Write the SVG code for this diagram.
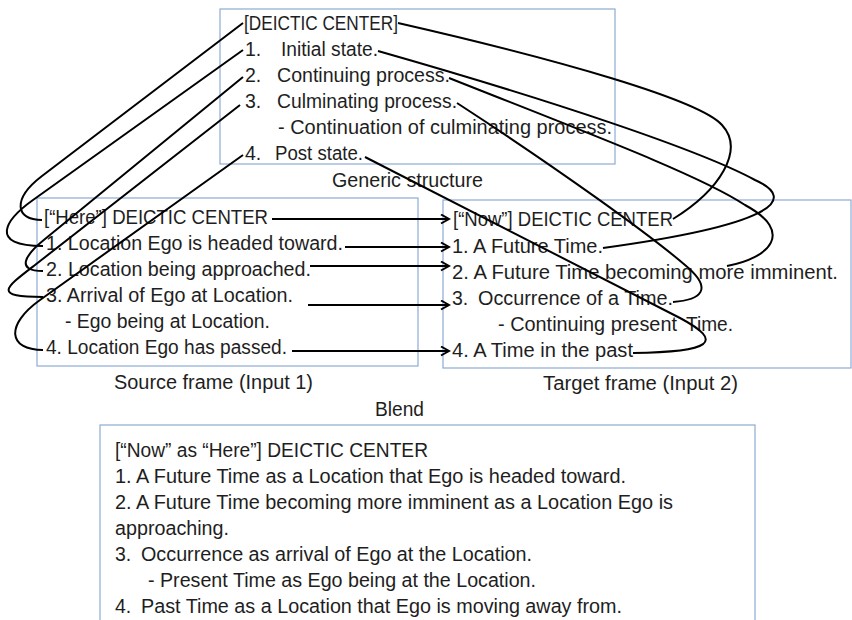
<svg xmlns="http://www.w3.org/2000/svg" width="852" height="620" viewBox="0 0 852 620">
<defs>
<style>
text{font-family:"Liberation Sans",Arial,sans-serif;font-size:19.5px;fill:#1e1e1e}
.box{fill:#fff;stroke:#8eaad6;stroke-width:1.2}
.c{fill:none;stroke:#000;stroke-width:2}
.a{fill:none;stroke:#000;stroke-width:2;marker-end:url(#ah)}
</style>
<marker id="ah" markerWidth="11" markerHeight="11" refX="9" refY="5.5" orient="auto" markerUnits="userSpaceOnUse"><path d="M1,1 L9,5.5 L1,10" fill="none" stroke="#000" stroke-width="2"/></marker>
</defs>
<rect width="852" height="620" fill="#fff"/>

<g id="generic">
<rect class="box" x="220" y="9" width="395" height="155"/>
<text x="244" y="30" textLength="154" lengthAdjust="spacingAndGlyphs">[DEICTIC CENTER]</text>
<text x="245" y="56">1.</text><text x="281" y="56" textLength="97" lengthAdjust="spacingAndGlyphs">Initial state.</text>
<text x="245" y="82">2.</text><text x="277" y="82" textLength="173" lengthAdjust="spacingAndGlyphs">Continuing process.</text>
<text x="245" y="108">3.</text><text x="277" y="108" textLength="180" lengthAdjust="spacingAndGlyphs">Culminating process.</text>
<text x="278" y="134" textLength="334" lengthAdjust="spacingAndGlyphs">- Continuation of culminating process.</text>
<text x="245" y="160">4.</text><text x="275" y="160" textLength="88" lengthAdjust="spacingAndGlyphs">Post state.</text>
<text x="332" y="187" textLength="151" lengthAdjust="spacingAndGlyphs">Generic structure</text>
</g>

<g id="source">
<rect class="box" x="37" y="198" width="381" height="168"/>
<text x="44" y="224" textLength="224" lengthAdjust="spacingAndGlyphs">[“Here”] DEICTIC CENTER</text>
<text x="46" y="250" textLength="297" lengthAdjust="spacingAndGlyphs">1. Location Ego is headed toward.</text>
<text x="46" y="276" textLength="265" lengthAdjust="spacingAndGlyphs">2. Location being approached.</text>
<text x="46" y="302" textLength="247" lengthAdjust="spacingAndGlyphs">3. Arrival of Ego at Location.</text>
<text x="65" y="328" textLength="205" lengthAdjust="spacingAndGlyphs">- Ego being at Location.</text>
<text x="46" y="354" textLength="241" lengthAdjust="spacingAndGlyphs">4. Location Ego has passed.</text>
<text x="114" y="389" textLength="199" lengthAdjust="spacingAndGlyphs">Source frame (Input 1)</text>
</g>

<g id="target">
<rect class="box" x="443" y="200" width="408" height="168"/>
<text x="453" y="226" textLength="220" lengthAdjust="spacingAndGlyphs">[“Now”] DEICTIC CENTER</text>
<text x="452" y="253" textLength="151" lengthAdjust="spacingAndGlyphs">1. A Future Time.</text>
<text x="452" y="279" textLength="386" lengthAdjust="spacingAndGlyphs">2. A Future Time becoming more imminent.</text>
<text x="452" y="305">3.</text><text x="478" y="305" textLength="195" lengthAdjust="spacingAndGlyphs">Occurrence of a Time.</text>
<text x="498" y="331" textLength="179" lengthAdjust="spacingAndGlyphs">- Continuing present</text><text x="686" y="331" textLength="47" lengthAdjust="spacingAndGlyphs">Time.</text>
<text x="452" y="357" textLength="181" lengthAdjust="spacingAndGlyphs">4. A Time in the past</text>
<text x="543" y="390" textLength="195" lengthAdjust="spacingAndGlyphs">Target frame (Input 2)</text>
</g>

<g id="blend">
<text x="375" y="416" textLength="49" lengthAdjust="spacingAndGlyphs">Blend</text>
<rect class="box" x="100" y="425" width="655" height="215"/>
<text x="115" y="457" textLength="313" lengthAdjust="spacingAndGlyphs">[“Now” as “Here”] DEICTIC CENTER</text>
<text x="115" y="483" textLength="511" lengthAdjust="spacingAndGlyphs">1. A Future Time as a Location that Ego is headed toward.</text>
<text x="115" y="509" textLength="558" lengthAdjust="spacingAndGlyphs">2. A Future Time becoming more imminent as a Location Ego is</text>
<text x="115" y="535" textLength="114" lengthAdjust="spacingAndGlyphs">approaching.</text>
<text x="115" y="561">3.</text><text x="141" y="561" textLength="391" lengthAdjust="spacingAndGlyphs">Occurrence as arrival of Ego at the Location.</text>
<text x="148" y="587" textLength="388" lengthAdjust="spacingAndGlyphs">- Present Time as Ego being at the Location.</text>
<text x="115" y="613">4.</text><text x="141" y="613" textLength="481" lengthAdjust="spacingAndGlyphs">Past Time as a Location that Ego is moving away from.</text>
</g>

<g id="connectors">
<path class="c" d="M42,220 C15,220 12,199 42,176 L243,23"/>
<path class="c" d="M43,246 C-12,246 5,220 33,200 L243,50"/>
<path class="c" d="M43,271 C15,271 25,255 45,239 L243,77"/>
<path class="c" d="M43,297 C-8,297 5,288 35,265 L240,105"/>
<path class="c" d="M43,350 C8,350 5,325 40,300 L243,155"/>
<path class="c" d="M398,23 C560,60 700,100 722,125 C745,150 720,190 673,219"/>
<path class="c" d="M378,51 C550,100 700,150 755,180 C800,200 770,225 603,248"/>
<path class="c" d="M449,78 C580,130 700,175 745,205 C795,232 770,258 727,266"/>
<path class="c" d="M457,103 C560,170 650,235 685,265 C715,290 700,300 673,302"/>
<path class="c" d="M365,157 L680,318 C725,342 712,352 633,353"/>
<path class="a" d="M272,219 H449"/>
<path class="a" d="M345,247 H449"/>
<path class="a" d="M310,266 H449"/>
<path class="a" d="M308,305 H449"/>
<path class="a" d="M292,351 H449"/>
</g>
</svg>
